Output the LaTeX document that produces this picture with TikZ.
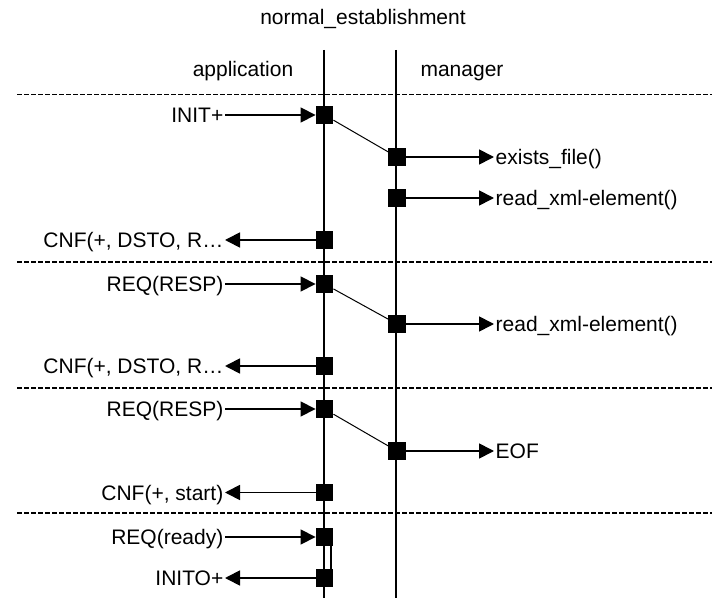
\documentclass[tikz,border=0pt]{standalone}
\usepackage{fontspec}
\setmainfont{Liberation Sans}
\usetikzlibrary{arrows.meta}
\begin{document}
\begin{tikzpicture}[x=1pt,y=-1pt,
  box/.style={fill=black,draw=none,minimum size=17.5pt,inner sep=0pt},
  lab/.style={font=\fontsize{21}{21}\selectfont,inner ysep=0pt,inner xsep=1.5pt,text height=15pt,text depth=0pt},
  msg/.style={line width=1.7pt,-{Triangle[length=15pt,width=15pt]}},
  life/.style={line width=1.7pt},
  sep/.style={line width=1.3pt,dash pattern=on 4.5pt off 2.5pt},
  call/.style={line width=1pt}]
\useasboundingbox (0,0) rectangle (720,601);
\fill[white] (0,0) rectangle (720,601);
% headers
\node[lab,anchor=base] (title) at (363,25) {normal\_establishment};
\node[lab,anchor=base] (app) at (243,77) {application};
\node[lab,anchor=base] (mgr) at (462,77) {manager};
% separators
\foreach \n/\y in {1/94.5,2/262,3/388,4/513}{
  \coordinate (s\n l) at (17,\y);
  \coordinate (s\n r) at (712,\y);
  \draw[sep] (s\n l) -- (s\n r);
}
% lifelines
\coordinate (appTop) at (324,50);
\coordinate (appBot) at (324,598);
\coordinate (mgrTop) at (396,50);
\coordinate (mgrBot) at (396,598);
\draw[life] (appTop) -- (appBot);
\draw[life] (mgrTop) -- (mgrBot);
% boxes
\node[box] (a1) at (324.5,115) {};
\node[box] (m1) at (397,157) {};
\node[box] (m2) at (397,198) {};
\node[box] (a4) at (324.5,240) {};
\node[box] (a5) at (324.5,284) {};
\node[box] (m6) at (397,324) {};
\node[box] (a7) at (324.5,366) {};
\node[box] (a8) at (324.5,409) {};
\node[box] (m9) at (397,451) {};
\node[box] (a10) at (324.5,492.5) {};
\node[box] (a11) at (324.5,537) {};
\node[box] (a12) at (324.5,578) {};
% labels
\node[lab,anchor=east] (l1) at (225,115) {INIT+};
\node[lab,anchor=west] (r1) at (494,157) {exists\_file()};
\node[lab,anchor=west] (r2) at (494,198) {read\_xml-element()};
\node[lab,anchor=east] (l4) at (225,240) {CNF(+, DSTO, R…};
\node[lab,anchor=east] (l5) at (225,284) {REQ(RESP)};
\node[lab,anchor=west] (r6) at (494,324) {read\_xml-element()};
\node[lab,anchor=east] (l7) at (225,366) {CNF(+, DSTO, R…};
\node[lab,anchor=east] (l8) at (225,409) {REQ(RESP)};
\node[lab,anchor=west] (r9) at (494,451) {EOF};
\node[lab,anchor=east] (l10) at (225,492.5) {CNF(+, start)};
\node[lab,anchor=east] (l11) at (225,537) {REQ(ready)};
\node[lab,anchor=east] (l12) at (225,578) {INITO+};
% messages
\draw[msg] (l1.east) -- (a1.west);
\draw[call] (a1) -- (m1);
\draw[msg] (m1.east) -- (r1.west);
\draw[msg] (m2.east) -- (r2.west);
\draw[msg] (a4.west) -- (l4.east);
\draw[msg] (l5.east) -- (a5.west);
\draw[call] (a5) -- (m6);
\draw[msg] (m6.east) -- (r6.west);
\draw[msg] (a7.west) -- (l7.east);
\draw[msg] (l8.east) -- (a8.west);
\draw[call] (a8) -- (m9);
\draw[msg] (m9.east) -- (r9.west);
\draw[msg] (a10.west) -- (l10.east);
\draw[msg] (l11.east) -- (a11.west);
\draw[line width=1.2pt] ([xshift=6.5pt]a11.south) -- ([xshift=6.5pt]a12.north);
\draw[msg] (a12.west) -- (l12.east);
\end{tikzpicture}
\end{document}
